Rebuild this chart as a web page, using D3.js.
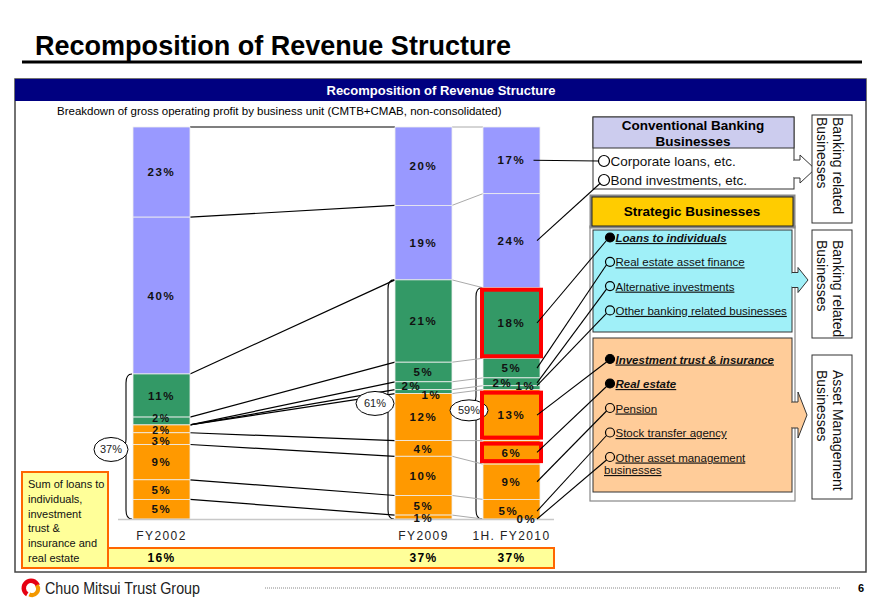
<!DOCTYPE html>
<html>
<head>
<meta charset="utf-8">
<script src="https://cdn.jsdelivr.net/npm/d3@7"></script>
<style>
  html, body { margin: 0; padding: 0; background: #fff; }
  svg { display: block; font-family: "Liberation Sans", Arial, sans-serif; }
</style>
</head>
<body>
<svg id="chart" width="880" height="609"></svg>
<script>
// ---------------- DATA ----------------
const periods = ["FY2002", "FY2009", "1H. FY2010"];
const categories = [
  "Corporate loans, etc.", "Bond investments, etc.",
  "Loans to individuals", "Real estate asset finance", "Alternative investments", "Other banking related businesses",
  "Investment trust & insurance", "Real estate", "Pension", "Stock transfer agency", "Other asset management businesses"
];
const categoryGroup = ["conv", "conv", "bank", "bank", "bank", "bank", "asset", "asset", "asset", "asset", "asset"];
const valuesFY2002 = [23, 40, 11, 2, 0, 0, 2, 3, 9, 5, 5];
const valuesFY2009 = [20, 19, 21, 5, 2, 1, 12, 4, 10, 5, 1];
const valuesFY2010 = [17, 24, 18, 5, 2, 1, 13, 6, 9, 5, 0];
const seriesValues = [valuesFY2002, valuesFY2009, valuesFY2010];
const sumCategories = [2, 6, 7];          // loans to individuals, investment trust & insurance, real estate
const filledItems = [2, 6, 7];
const sideLabels = [["Banking related", "Businesses"], ["Banking related", "Businesses"], ["Asset Management", "Businesses"]];

// ---------------- SETUP ----------------
const svg = d3.select("#chart");
const groupColor = { conv: "#9999ff", bank: "#339966", asset: "#ff9900" };

const y = d3.scaleLinear().domain([0, 100]).range([519, 127]);
const x = d3.scaleOrdinal().domain(periods).range([133, 395, 483]);
const barW = 57;

// stacked from top
const stacks = seriesValues.map((vals, pi) => {
  let top = 100;
  return vals.map((v, i) => {
    const s = { period: periods[pi], pi, i, v, top, bottom: top - v };
    top -= v;
    return s;
  });
});

// label offsets for small segments (dx, dy in px)
const labelOffset = {
  "0|3": [0, -3], "0|6": [0, 1], "0|7": [0, 2],
  "1|4": [-12, 0], "1|5": [8, 3],
  "1|9": [0, 1], "1|10": [0, 1],
  "2|4": [-9, 1], "2|5": [14, -2],
  "2|9": [-3, 2], "2|10": [15, 0]
};
const smallLabels = ["0|3", "0|6"];
function labelPos(s) {
  const off = labelOffset[s.pi + "|" + s.i] || [0, 0];
  return [x(s.period) + barW / 2 + off[0], (y(s.top) + y(s.bottom)) / 2 + off[1]];
}

// ---------------- TITLE ----------------
svg.append("text").attr("x", 35).attr("y", 55)
  .attr("font-size", 28).attr("font-weight", "bold")
  .attr("textLength", 476).attr("lengthAdjust", "spacingAndGlyphs")
  .text("Recomposition of Revenue Structure");
svg.append("line").attr("x1", 22).attr("x2", 862).attr("y1", 62).attr("y2", 62)
  .attr("stroke", "#000").attr("stroke-width", 3);

// panel
svg.append("rect").attr("x", 15).attr("y", 79).attr("width", 851).attr("height", 493)
  .attr("fill", "none").attr("stroke", "#444").attr("stroke-width", 1.5);
svg.append("rect").attr("x", 15).attr("y", 79).attr("width", 851).attr("height", 22).attr("fill", "#000080");
svg.append("text").attr("x", 441).attr("y", 95).attr("text-anchor", "middle")
  .attr("fill", "#fff").attr("font-weight", "bold").attr("font-size", 13)
  .text("Recomposition of Revenue Structure");
svg.append("text").attr("x", 57).attr("y", 115).attr("font-size", 11.5)
  .text("Breakdown of gross operating profit by business unit (CMTB+CMAB, non-consolidated)");

// ---------------- BRACES (behind) ----------------
const gBrace = svg.append("g");
stacks.forEach((st, pi) => {
  const nonConv = d3.sum(st.filter(s => categoryGroup[s.i] !== "conv"), s => s.v);
  const yTop = y(nonConv), yBot = y(0), yMid = (yTop + yBot) / 2;
  const bx = x(periods[pi]) - 7;
  const p = d3.path();
  p.moveTo(bx + 6, yTop);
  p.quadraticCurveTo(bx, yTop, bx, yTop + 9);
  p.lineTo(bx, yMid - 7);
  p.quadraticCurveTo(bx, yMid, bx - 5, yMid);
  p.quadraticCurveTo(bx, yMid, bx, yMid + 7);
  p.lineTo(bx, yBot - 9);
  p.quadraticCurveTo(bx, yBot, bx + 6, yBot);
  gBrace.append("path").attr("d", p.toString()).attr("fill", "none").attr("stroke", "#000").attr("stroke-width", 1.1);
});

// ---------------- CONNECTING LINES ----------------
const gLines = svg.append("g");
function boundaries(st) {
  const b = [100];
  for (let i = 0; i < st.length - 1; i++) b.push(st[i].bottom);
  return b;
}
const b0 = boundaries(stacks[0]), b1 = boundaries(stacks[1]), b2 = boundaries(stacks[2]);
b0.forEach((v, k) => {
  gLines.append("line")
    .attr("x1", x(periods[0]) + barW).attr("y1", y(v))
    .attr("x2", x(periods[1])).attr("y2", y(b1[k]))
    .attr("stroke", "#000").attr("stroke-width", 1.2);
});
b1.forEach((v, k) => {
  gLines.append("line")
    .attr("x1", x(periods[1]) + barW).attr("y1", y(v))
    .attr("x2", x(periods[2])).attr("y2", y(b2[k]))
    .attr("stroke", "#aaa").attr("stroke-width", 1);
});

// ---------------- BARS ----------------
const gBars = svg.append("g");
stacks.forEach(st => {
  gBars.selectAll(null).data(st.filter(s => s.v > 0)).enter().append("rect")
    .attr("x", s => x(s.period)).attr("width", barW)
    .attr("y", s => y(s.top)).attr("height", s => y(s.bottom) - y(s.top))
    .attr("fill", s => groupColor[categoryGroup[s.i]])
    .attr("stroke", "#eeeeee").attr("stroke-width", 0.8);
});
svg.append("line").attr("x1", 118).attr("x2", 554).attr("y1", y(0) + 0.5).attr("y2", y(0) + 0.5)
  .attr("stroke", "#c8c8c8").attr("stroke-width", 1.5);

// ellipses for brace totals
const ellipseOffset = [[-15, 3], [-13, 4], [-7, 7]];
stacks.forEach((st, pi) => {
  const nonConv = d3.sum(st.filter(s => categoryGroup[s.i] !== "conv"), s => s.v);
  const yMid = (y(nonConv) + y(0)) / 2 + ellipseOffset[pi][1];
  const cx = x(periods[pi]) - 7 + ellipseOffset[pi][0];
  svg.append("ellipse").attr("cx", cx).attr("cy", yMid).attr("rx", pi === 0 ? 17 : 19).attr("ry", pi === 2 ? 10.5 : 12)
    .attr("fill", "#fff").attr("stroke", "#000").attr("stroke-width", 1);
  svg.append("text").attr("x", cx).attr("y", yMid).attr("dy", "0.35em").attr("text-anchor", "middle")
    .attr("font-size", 11).attr("fill", "#222").text(nonConv + "%");
});

// highlight boxes on latest period
const lastStack = stacks[2];
sumCategories.forEach(ci => {
  const s = lastStack[ci];
  const inset = ci === 2 ? 2 : 3;
  svg.append("rect")
    .attr("x", x(s.period) - 1).attr("width", barW + 2)
    .attr("y", y(s.top) + inset).attr("height", y(s.bottom) - y(s.top) - 2 * inset)
    .attr("fill", "none").attr("stroke", "#ff0000").attr("stroke-width", 4);
});

// segment labels
const gLab = svg.append("g");
stacks.forEach(st => {
  st.forEach(s => {
    if (s.v === 0 && s.pi !== 2) return;
    const [lx, ly] = labelPos(s);
    const key = s.pi + "|" + s.i;
    gLab.append("text").attr("x", lx).attr("y", ly).attr("dy", "0.36em")
      .attr("text-anchor", "middle").attr("font-size", smallLabels.includes(key) ? 10.5 : 11.5).attr("font-weight", "bold")
      .attr("letter-spacing", 1.6).attr("fill", "#111")
      .text(s.v + "%");
  });
});

// x axis labels
periods.forEach(p => {
  svg.append("text").attr("x", x(p) + barW / 2).attr("y", 540).attr("text-anchor", "middle")
    .attr("font-size", 12).attr("letter-spacing", 1.4).attr("fill", "#222").text(p);
});

// ---------------- BOTTOM SUM BOX ----------------
svg.append("rect").attr("x", 22).attr("y", 472).attr("width", 86).attr("height", 96)
  .attr("fill", "#ffff99").attr("stroke", "#ff6600").attr("stroke-width", 2);
svg.append("rect").attr("x", 108).attr("y", 548).attr("width", 446).attr("height", 20)
  .attr("fill", "#ffff99").attr("stroke", "#ff6600").attr("stroke-width", 2);
const sumText = ["Sum of loans to", "individuals,", "investment", "trust &", "insurance and", "real estate"];
sumText.forEach((t, k) => {
  svg.append("text").attr("x", 28).attr("y", 488 + k * 14.8).attr("font-size", 11).attr("fill", "#111").text(t);
});
stacks.forEach((st, pi) => {
  const tot = d3.sum(sumCategories, ci => st[ci].v);
  svg.append("text").attr("x", x(periods[pi]) + barW / 2).attr("y", 562).attr("text-anchor", "middle")
    .attr("font-size", 12).attr("font-weight", "bold").attr("letter-spacing", 1.4).text(tot + "%");
});

// ---------------- RIGHT PANEL ----------------
const gR = svg.append("g");
gR.append("rect").attr("x", 593).attr("y", 117).attr("width", 201).attr("height", 72)
  .attr("fill", "#fff").attr("stroke", "#333").attr("stroke-width", 1);
gR.append("rect").attr("x", 593).attr("y", 117).attr("width", 201).attr("height", 31)
  .attr("fill", "#ccccee").attr("stroke", "#333").attr("stroke-width", 1);
gR.append("text").attr("x", 693).attr("y", 130).attr("text-anchor", "middle").attr("font-weight", "bold").attr("font-size", 13.5).text("Conventional Banking");
gR.append("text").attr("x", 693).attr("y", 146).attr("text-anchor", "middle").attr("font-weight", "bold").attr("font-size", 13.5).text("Businesses");

gR.append("rect").attr("x", 590).attr("y", 226).attr("width", 205).attr("height", 275)
  .attr("fill", "#fff").attr("stroke", "#888").attr("stroke-width", 1.2);
gR.append("rect").attr("x", 590).attr("y", 195).attr("width", 205).attr("height", 33)
  .attr("fill", "#888").attr("stroke", "#888");
gR.append("rect").attr("x", 592).attr("y", 197).attr("width", 201).attr("height", 29)
  .attr("fill", "#ffcc00").attr("stroke", "#222").attr("stroke-width", 1);
gR.append("text").attr("x", 692).attr("y", 216).attr("text-anchor", "middle").attr("font-weight", "bold").attr("font-size", 13.5).text("Strategic Businesses");
gR.append("rect").attr("x", 593).attr("y", 230).attr("width", 199).attr("height", 102)
  .attr("fill", "#a0f0f8").attr("stroke", "#333").attr("stroke-width", 1);
gR.append("rect").attr("x", 593).attr("y", 338).attr("width", 199).attr("height", 154)
  .attr("fill", "#ffcc99").attr("stroke", "#333").attr("stroke-width", 1);

function arrow(x0, xb, tip, yc, hs, hh, fill) {
  const pts = [[x0, yc - hs], [xb, yc - hs], [xb, yc - hh], [tip, yc], [xb, yc + hh], [xb, yc + hs], [x0, yc + hs]];
  gR.append("path").attr("d", d3.line()(pts)).attr("fill", fill).attr("stroke", "#333").attr("stroke-width", 1);
  gR.append("line").attr("x1", x0).attr("x2", x0).attr("y1", yc - hs + 1).attr("y2", yc + hs - 1).attr("stroke", fill).attr("stroke-width", 2);
}
arrow(794, 800, 815, 169, 9, 14, "#fff");
arrow(792, 798, 808, 280, 7.5, 12.5, "#a0f0f8");
arrow(792, 798, 807, 415, 13, 23, "#ffcc99");

const sideBoxes = [[115, 108, 117], [230, 108, 240], [355, 144, 370]];
sideBoxes.forEach((b, k) => {
  gR.append("rect").attr("x", 812).attr("y", b[0]).attr("width", 40).attr("height", b[1])
    .attr("fill", "#fff").attr("stroke", "#333").attr("stroke-width", 1);
  gR.append("text").attr("transform", `translate(833,${b[2]}) rotate(90)`).attr("font-size", 14).attr("fill", "#111").text(sideLabels[k][0]);
  gR.append("text").attr("transform", `translate(817,${b[2]}) rotate(90)`).attr("font-size", 14).attr("fill", "#111").text(sideLabels[k][1]);
});

const itemPos = [];
itemPos[0] = [604, 161]; itemPos[1] = [604, 180];
[2, 3, 4, 5].forEach((ci, k) => itemPos[ci] = [610, 237.5 + k * 24.3]);
[6, 7, 8, 9, 10].forEach((ci, k) => itemPos[ci] = [610, 359 + k * 24.5]);

categories.forEach((c, ci) => {
  const [cx, cy] = itemPos[ci];
  const conv = categoryGroup[ci] === "conv";
  const r = conv ? 5.5 : 4.5;
  const filled = filledItems.includes(ci);
  gR.append("circle").attr("cx", cx).attr("cy", cy).attr("r", r)
    .attr("fill", filled ? "#000" : "none").attr("stroke", "#000").attr("stroke-width", 1.2);
  const t = gR.append("text").attr("x", cx + r + 1).attr("y", cy + 4.5)
    .attr("font-size", conv ? 13.5 : 11.5).attr("fill", "#111");
  if (!conv) t.attr("text-decoration", "underline");
  if (filled) t.attr("font-weight", "bold").attr("font-style", "italic");
  if (ci === 10) {
    t.text("Other asset management");
    gR.append("text").attr("x", 604).attr("y", cy + 17).attr("font-size", 11.5)
      .attr("text-decoration", "underline").attr("fill", "#111").text("businesses");
  } else {
    t.text(c);
  }
});

lastStack.forEach(s => {
  const [, ly] = labelPos(s);
  const [cx, cy] = itemPos[s.i];
  const sx = s.i === 0 ? x(s.period) + barW / 2 + 22 : x(s.period) + barW - 3;
  const ex = s.i === 0 ? cx - 5.5 : cx - 3.5;
  const ey = s.i === 0 ? cy : cy + 3;
  gR.append("line").attr("x1", sx).attr("y1", ly).attr("x2", ex).attr("y2", ey)
    .attr("stroke", "#000").attr("stroke-width", 1.1);
});

// ---------------- FOOTER ----------------
const gF = svg.append("g");
gF.append("path").attr("d", d3.arc()({ innerRadius: 5, outerRadius: 9.5, startAngle: -2.6, endAngle: 1.2 }))
  .attr("transform", "translate(31,588)").attr("fill", "#e60012");
gF.append("path").attr("d", d3.arc()({ innerRadius: 4, outerRadius: 8, startAngle: 0.9, endAngle: 3.6 }))
  .attr("transform", "translate(32,589)").attr("fill", "#f39800");
gF.append("text").attr("x", 45).attr("y", 594).attr("font-size", 16).attr("fill", "#222")
  .attr("textLength", 155).attr("lengthAdjust", "spacingAndGlyphs").text("Chuo Mitsui Trust Group");
gF.append("line").attr("x1", 265).attr("x2", 840).attr("y1", 588).attr("y2", 588)
  .attr("stroke", "#888").attr("stroke-width", 1).attr("stroke-dasharray", "1,1");
gF.append("text").attr("x", 858).attr("y", 592).attr("font-size", 11).attr("font-weight", "bold").text("6");
</script>
</body>
</html>
